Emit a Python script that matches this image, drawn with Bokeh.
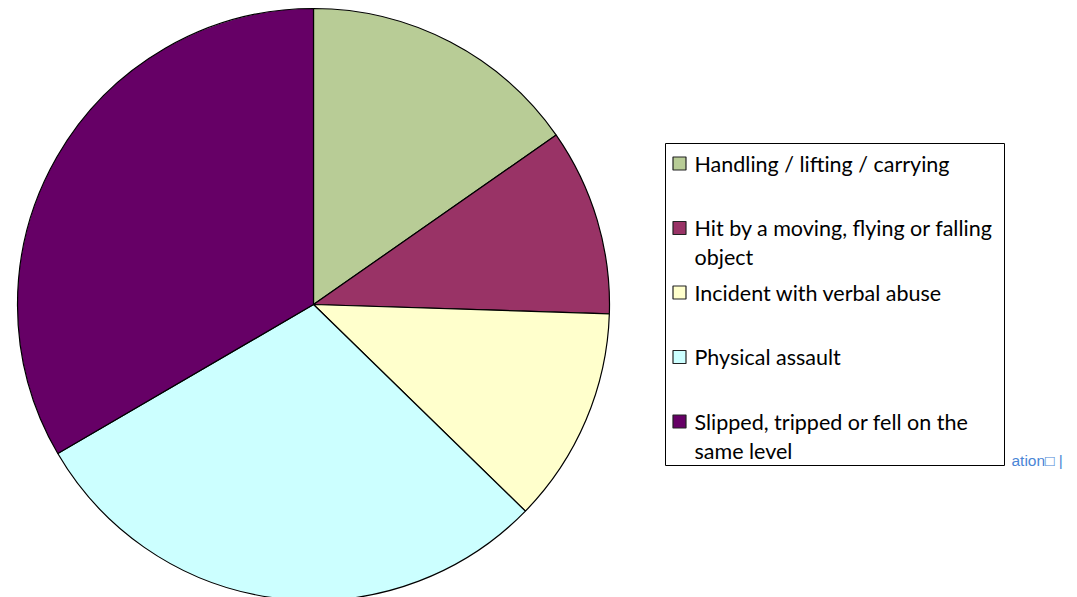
import math
from bokeh.plotting import figure
from bokeh.models import Range1d, ColumnDataSource
from bokeh.core.properties import value
from bokeh.embed import file_html
from bokeh.resources import INLINE

categories = [
    "Handling / lifting / carrying",
    "Hit by a moving, flying or falling object",
    "Incident with verbal abuse",
    "Physical assault",
    "Slipped, tripped or fell on the same level",
]
label_lines = [
    ["Handling / lifting / carrying"],
    ["Hit by a moving, flying or falling", "object"],
    ["Incident with verbal abuse"],
    ["Physical assault"],
    ["Slipped, tripped or fell on the", "same level"],
]
values = [15.3, 10.2, 11.8, 29.3, 33.4]
colors = ["#B8CC96", "#993366", "#FFFFCC", "#CCFFFF", "#660066"]

W, H = 1069, 597
p = figure(width=W, height=H, output_backend="svg", toolbar_location=None,
           x_range=Range1d(0, W), y_range=Range1d(0, H), min_border=0)
p.axis.visible = False
p.grid.visible = False
p.outline_line_color = None
p.background_fill_color = "white"


def px(x):
    return x


def py(y):
    return H - y


total = sum(values)
starts, ends = [], []
cum = 0.0
for v in values:
    starts.append(math.pi / 2 - 2 * math.pi * cum / total)
    cum += v
    ends.append(math.pi / 2 - 2 * math.pi * cum / total)

src = ColumnDataSource(dict(start=starts, end=ends, color=colors, name=categories))
p.wedge(x=px(313), y=py(304), radius=296, start_angle="start", end_angle="end",
        direction="clock", fill_color="color", line_color="black", line_width=1.2,
        source=src)

# legend box
p.quad(left=px(665), right=px(1004), top=py(143), bottom=py(465),
       fill_color="white", line_color="black", line_width=1)

font = value("Lato")
for i, (lines, c) in enumerate(zip(label_lines, colors)):
    yc = 163 + i * 64.5
    p.scatter(x=[px(679)], y=[py(yc)], marker="square", size=13,
              fill_color=c, line_color="#222222", line_width=1.2)
    for j, ln in enumerate(lines):
        p.text(x=[px(694)], y=[py(yc + j * 29)], text=[ln], text_font=font,
               text_font_size="21.5px", text_color="black",
               text_baseline="middle", text_align="left")

p.text(x=[px(1011)], y=[py(460)], text=["ation\u25a1 |"], text_font=value("Liberation Sans"),
       text_font_size="15.5px", text_color="#4a86d6", text_baseline="middle",
       text_align="left")

open("out.html", "w").write(file_html(p, INLINE))
